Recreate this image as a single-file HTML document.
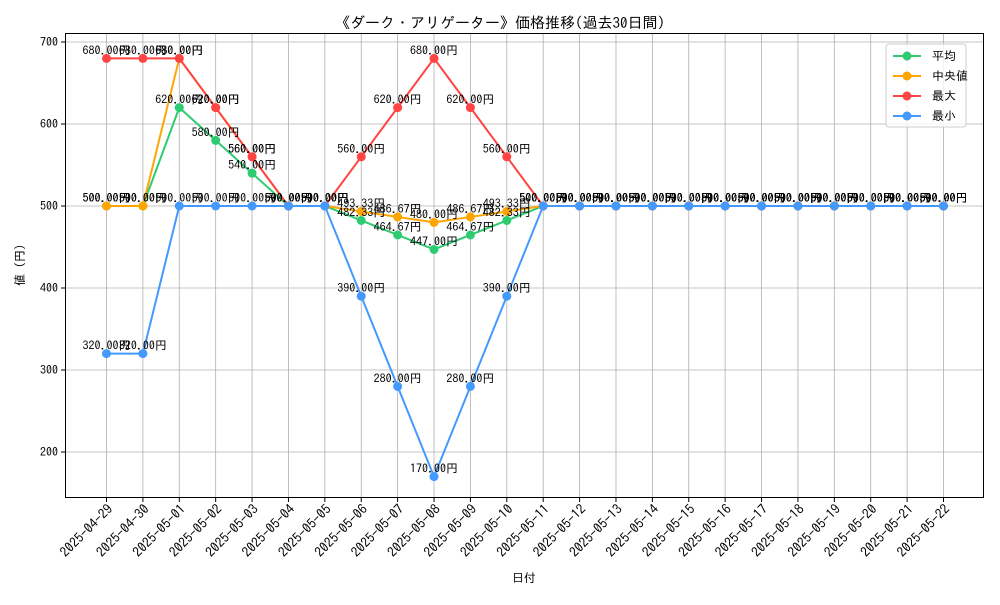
<!DOCTYPE html>
<html><head><meta charset="utf-8"><style>
body{margin:0;background:#fff;}
svg text{font-family:"IPAGothic","Liberation Sans","Noto Sans CJK JP",sans-serif;}
</style></head><body>
<svg id="chart" width="1000" height="600" xmlns="http://www.w3.org/2000/svg">
<rect x="0" y="0" width="1000" height="600" fill="#fff"/>
<text x="500" y="28" text-anchor="middle" font-size="15" fill="#000">《ダーク・アリゲーター》価格推移(過去30日間)</text>
<g id="grid"></g>
<g id="axes"></g>
<g id="series"></g>
<g id="labels"></g>
<rect x="65.5" y="33.5" width="918" height="464" fill="none" stroke="#000" stroke-width="1"/>
<text x="524" y="582" text-anchor="middle" font-size="12">日付</text>
<text transform="translate(24,265) rotate(-90)" text-anchor="middle" font-size="12">値 (円)</text>
<g id="legend"></g>
</svg>
<script>
const dates=["2025-04-29","2025-04-30","2025-05-01","2025-05-02","2025-05-03","2025-05-04","2025-05-05","2025-05-06","2025-05-07","2025-05-08","2025-05-09","2025-05-10","2025-05-11","2025-05-12","2025-05-13","2025-05-14","2025-05-15","2025-05-16","2025-05-17","2025-05-18","2025-05-19","2025-05-20","2025-05-21","2025-05-22"];
const avgVals=[500,500,620,580,540,500,500,482.33,464.67,447,464.67,482.33,500,500,500,500,500,500,500,500,500,500,500,500];
const medianVals=[500,500,680,620,560,500,500,493.33,486.67,480,486.67,493.33,500,500,500,500,500,500,500,500,500,500,500,500];
const maxVals=[680,680,680,620,560,500,500,560,620,680,620,560,500,500,500,500,500,500,500,500,500,500,500,500];
const minVals=[320,320,500,500,500,500,500,390,280,170,280,390,500,500,500,500,500,500,500,500,500,500,500,500];
const yTicks=[200,300,400,500,600,700];
const seriesNames=["平均","中央値","最大","最小"];
const ns="http://www.w3.org/2000/svg";
const xPos=i=>106.5+i*(943.5-106.5)/(dates.length-1);
const yPos=v=>206-(v-500)*0.82;
function mk(tag,attrs,parent){const e=document.createElementNS(ns,tag);for(const k in attrs)e.setAttribute(k,attrs[k]);document.getElementById(parent).appendChild(e);return e;}
yTicks.forEach(t=>{
  const y=yPos(t);
  const g=mk("line",{x1:65.5,x2:983.5,y1:y,y2:y,stroke:"#b0b0b0","stroke-width":0.8},"grid");
  
  
  mk("line",{x1:61,x2:65.5,y1:y,y2:y,stroke:"#000"},"axes");
  const tx=mk("text",{x:58,y:y+4,"text-anchor":"end","font-size":12},"axes");
  tx.textContent=t;
  
  
});
dates.forEach((d,i)=>{
  const x=xPos(i);
  const g=mk("line",{x1:x,x2:x,y1:33.5,y2:497.5,stroke:"#b0b0b0","stroke-width":0.8},"grid");
  
  
  mk("line",{x1:x,x2:x,y1:497.5,y2:502,stroke:"#000"},"axes");
  const tx=mk("text",{transform:`translate(${x+7},${510}) rotate(-45)`,"text-anchor":"end","font-size":13.5},"axes");
  tx.textContent=d;
  
  
});
const allSeries=[[avgVals,"#2ecc71","avg"],[medianVals,"#ffa500","median"],[maxVals,"#ff4444","max"],[minVals,"#4499ff","min"]];
allSeries.forEach(([vals,col,key])=>{
  const pts=vals.map((v,i)=>xPos(i)+","+yPos(v)).join(" ");
  const pl=mk("polyline",{points:pts,fill:"none",stroke:col,"stroke-width":2},"series");
  
  
  vals.forEach((v,i)=>{
    const c=mk("circle",{cx:xPos(i),cy:yPos(v),r:4.5,fill:col},"series");
    
    
    const t=mk("text",{x:xPos(i),y:yPos(v)-4,"text-anchor":"middle","font-size":12},"labels");
    t.textContent=v.toFixed(2)+"円";
    
    
  });
});
const lg=mk("rect",{x:886,y:44,width:80,height:83,rx:3,fill:"#fff","fill-opacity":0.8,stroke:"#ccc"},"legend");


seriesNames.forEach((n,i)=>{
  const y=56+i*20;const col=allSeries[i][1];
  const l=mk("line",{x1:893,x2:921,y1:y,y2:y,stroke:col,"stroke-width":2},"legend");
  
  
  const c=mk("circle",{cx:907,cy:y,r:4.5,fill:col},"legend");
  
  
  const t=mk("text",{x:932,y:y+4,"font-size":12},"legend");
  t.textContent=n;
  
  
});
</script>
</body></html>
